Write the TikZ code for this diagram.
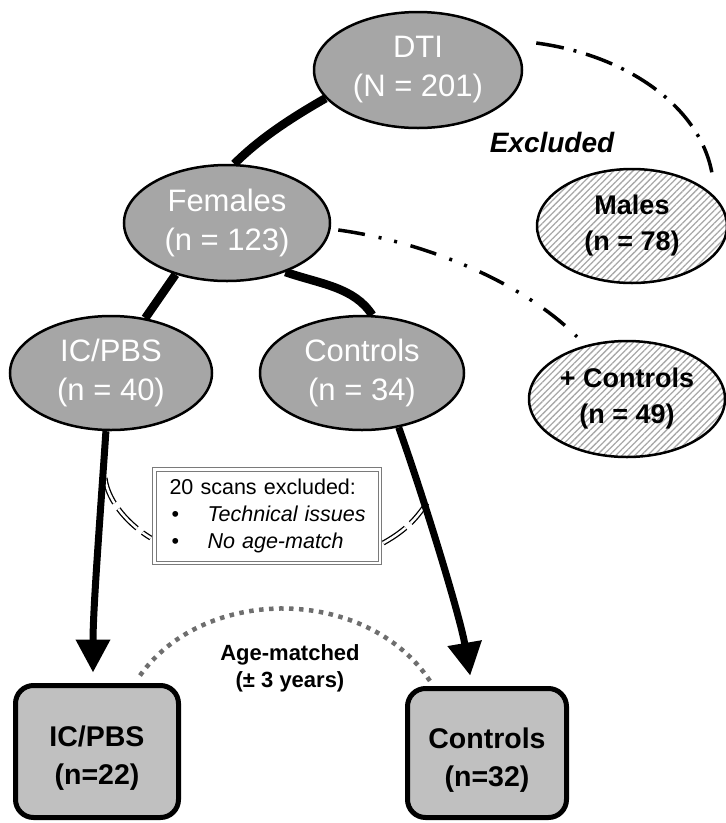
\documentclass[tikz,border=0pt]{standalone}
\usepackage{fontspec}
\setmainfont{Liberation Sans}
\usetikzlibrary{shapes.geometric,arrows.meta,patterns.meta,backgrounds}
\definecolor{ellgray}{HTML}{A6A6A6}
\definecolor{boxgray}{HTML}{C0C0C0}
\definecolor{dotgray}{HTML}{6E6E6E}
\definecolor{hatchgray}{HTML}{A8A8A8}
\definecolor{framegray}{HTML}{7A7A7A}
\begin{document}
\begin{tikzpicture}[x=1pt,y=-1pt,
  ell/.style={ellipse, draw=black, line width=2.5pt, fill=ellgray, text=white,
    inner sep=0pt, align=center, font=\fontsize{31}{39}\selectfont},
  hatch/.style={ellipse, draw=black, line width=2.5pt,
    pattern={Lines[angle=45,distance=4.5pt,line width=1.3pt]}, pattern color=hatchgray,
    inner sep=0pt, align=center, font=\bfseries\fontsize{27}{36}\selectfont},
  fbox/.style={rectangle, draw=black, line width=5pt, rounded corners=18pt, fill=boxgray,
    align=center, inner sep=0pt, font=\bfseries\fontsize{28.5}{38}\selectfont},
  exbox/.style={rectangle, draw=framegray, line width=1pt, double=white, double distance=2.5pt,
    fill=white, align=left, text width=203pt, inner xsep=11.25pt, inner ysep=0pt,
    minimum width=225.5pt, minimum height=93.5pt, font=\fontsize{21.5}{27}\selectfont},
  lbl/.style={align=center, inner sep=0pt},
  trunk/.style={line width=8.5pt},
  arrowline/.style={line width=7pt, -{Triangle[width=33pt,length=33pt]}},
  dblline/.style={draw=black, line width=1.3pt, double=white, double distance=2.5pt,
    dash pattern=on 27pt off 7pt},
  dotarc/.style={draw=dotgray, line width=4.5pt, dash pattern=on 4.5pt off 5.5pt},
  exlineA/.style={line width=3.5pt, dash pattern=on 28pt off 10pt on 3pt off 10pt},
  exlineB/.style={line width=3.5pt, dash pattern=on 27pt off 14pt on 3pt off 13pt on 3pt off 14pt}
]
\useasboundingbox (0,0) rectangle (726,823);

% nodes
\node[ell, minimum width=208pt, minimum height=116pt] (dti) at (418,70) {DTI\\(N = 201)};
\node[ell, minimum width=206pt, minimum height=116pt] (fem) at (227,223) {Females\\(n = 123)};
\node[ell, minimum width=202pt, minimum height=114pt] (icp) at (111,373) {IC/PBS\\(n = 40)};
\node[ell, minimum width=204pt, minimum height=114pt] (ctl) at (362,373) {Controls\\(n = 34)};
\node[hatch, minimum width=190pt, minimum height=114pt] (males) at (632,226) {Males\\(n = 78)};
\node[hatch, minimum width=196pt, minimum height=116pt] (plus) at (627,399) {+ Controls\\(n = 49)};
\node[fbox, minimum width=163pt, minimum height=132pt] (lbox) at (97,751.5) {\rule{0pt}{33pt}IC/PBS\\(n=22)};
\node[fbox, minimum width=159pt, minimum height=129pt] (rbox) at (487,753) {\rule{0pt}{35pt}Controls\\(n=32)};
\node[exbox] (ex) at (267,516) {\hspace*{4pt}20 scans excluded:\\
  \hspace*{6pt}\makebox[36pt][l]{\textbullet}\textit{Technical issues}\\
  \hspace*{6pt}\makebox[36pt][l]{\textbullet}\textit{No age-match}};
\node[lbl, font=\bfseries\itshape\fontsize{28}{34}\selectfont] (exlbl) at (552,142) {Excluded};
\node[lbl, font=\bfseries\fontsize{22}{27}\selectfont] (agelbl) at (290,668) {Age-matched\\(± 3 years)};

\coordinate (la) at (105,478);
\coordinate (ra) at (427,503);

\begin{pgfonlayer}{background}
  % tree trunks
  \draw[trunk] (dti.197) .. controls +(-35,20) and +(25,-25) .. (fem.83);
  \draw[trunk] (fem.225) -- (icp.58);
  \draw[trunk] (fem.320) .. controls +(35,12) and +(-18,-28) .. (ctl.80);
  % exclusion lines
  \draw[exlineA] ([shift={(13pt,27pt)}]dti.east) .. controls +(90,12) and +(-12,-67) .. ([shift={(80pt,-5pt)}]males.north);
  \draw[exlineB] ([shift={(7pt,-7pt)}]fem.east) .. controls +(87,12) and +(-55,-55) .. ([shift={(-50pt,3pt)}]plus.north);
  % double lines to the excluded-scans box
  \draw[dblline] (la) .. controls +(3,25) and +(-20,-12) .. ([shift={(-3pt,-22pt)}]ex.west);
  \draw[dblline] ([shift={(3pt,-27pt)}]ex.east) .. controls +(25,-14) and +(-10,14) .. (ra);
  % arrows to final groups
  \draw[arrowline, shorten >=10.5pt] (icp.265) .. controls +(-5,75) and +(0,-75) .. ([xshift=-4pt]lbox.north);
  \draw[arrowline, shorten >=10.5pt] (ctl.304) .. controls +(25,70) and +(-12,-70) .. ([xshift=-15pt]rbox.north);
  % age-matched arc
  \draw[dotarc] ([shift={(43pt,7.5pt)}]lbox.north) .. controls +(65,-91) and +(-63,-95) .. ([shift={(-57pt,5pt)}]rbox.north);
\end{pgfonlayer}
\end{tikzpicture}
\end{document}
